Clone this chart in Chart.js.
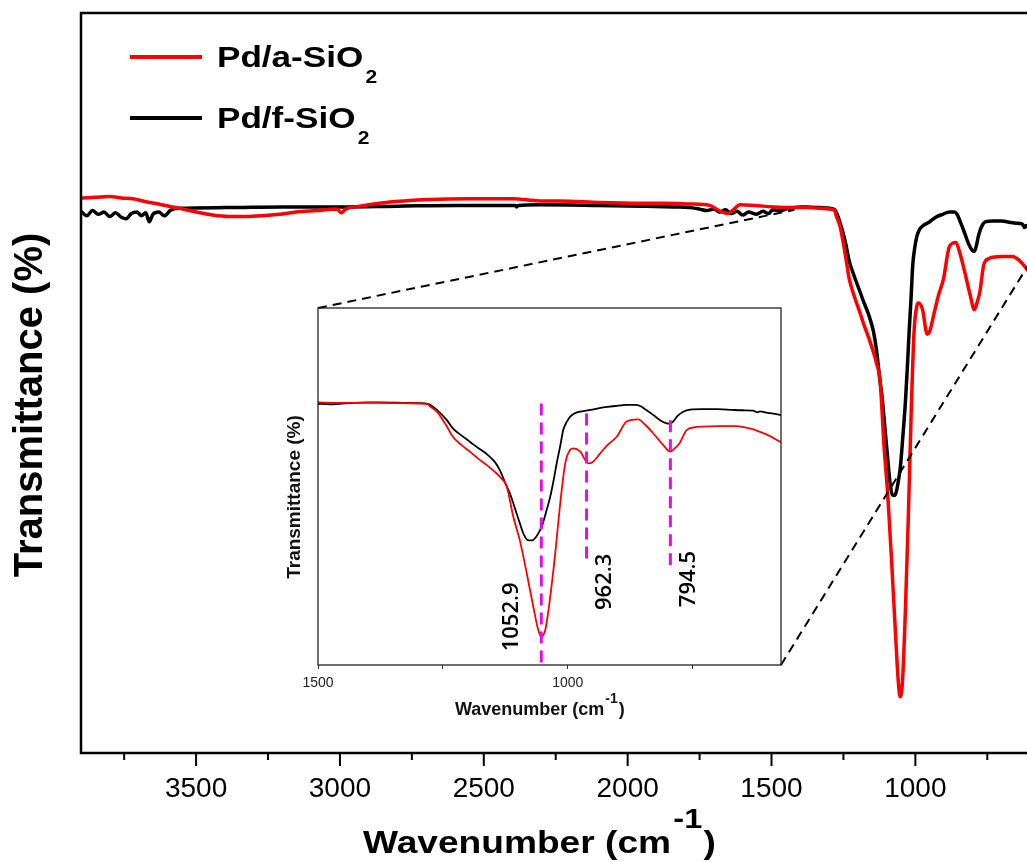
<!DOCTYPE html>
<html><head><meta charset="utf-8">
<script src="https://cdn.jsdelivr.net/npm/chart.js@4.4.1/dist/chart.umd.min.js"></script>
<style>
html,body{margin:0;padding:0;background:#fff;overflow:hidden}
#wrap{position:relative;width:1027px;height:862px;overflow:hidden;background:#fff}
#main{position:absolute;left:0;top:0}
#inset{position:absolute;left:250px;top:290px}
</style></head><body>
<div id="wrap">
<canvas id="main" width="1100" height="862"></canvas>
<canvas id="inset" width="560" height="450"></canvas>
</div>
<script>
// ---------------- data ----------------
const seriesNames = ['Pd/a-SiO_2', 'Pd/f-SiO_2'];
const seriesColors = ['#ff0000', '#000000'];

const redWn = [3900,3850,3800,3760,3720,3674,3620,3559,3500,3444,3385,3330,3270,3210,3152,3080,3010,2995,2980,2930,2863,2780,2689,2550,2400,2306,2237,2100,1958,1870,1785,1715,1692,1670,1651,1630,1610,1560,1496,1440,1377,1330,1297,1280,1276,1262,1242,1230,1213,1196,1180,1162,1146,1136,1122,1109,1096,1082,1069,1059,1053,1045,1035,1025,1015,1005,995,989,975,959,950,935,920,902,882,859,845,829,809,795,786,776,762,745,730,700,662,640,615,595,575,565];
const redT  = [75.0,75.1,75.2,75.0,74.9,74.5,74.1,73.6,73.1,72.7,72.5,72.5,72.6,72.8,73.1,73.3,73.5,73.0,73.5,73.9,74.3,74.6,74.8,74.9,74.9,74.6,74.6,74.4,74.3,74.3,74.2,74.0,73.5,73.1,72.9,73.5,74.1,74.0,73.8,73.7,73.7,73.6,73.5,73.3,72.7,71.2,67.0,64.1,61.8,59.9,58.0,56.1,54.2,52.8,50.0,41.5,34.9,25.5,16.1,9.5,7.6,9.5,18.9,31.2,45.3,56.6,60.4,60.8,59.9,56.6,57.0,59.4,61.8,64.1,68.4,69.0,67.5,65.1,61.8,59.9,60.8,62.3,66.0,66.8,67.0,67.1,67.1,66.6,65.5,64.3,62.7,62.0];

const blackWn = [3900,3880,3860,3840,3820,3800,3780,3760,3743,3725,3705,3690,3675,3663,3650,3630,3610,3590,3560,3400,3200,3000,2800,2600,2390,2386,2380,2306,2100,1950,1842,1780,1750,1726,1700,1680,1660,1640,1620,1600,1580,1552,1530,1510,1496,1470,1440,1400,1377,1330,1297,1280,1262,1242,1230,1213,1196,1180,1162,1146,1136,1122,1116,1106,1096,1088,1080,1072,1065,1059,1052,1044,1035,1028,1022,1015,1009,1002,995,985,975,950,929,905,882,865,855,842,829,815,802,795,789,780,769,755,730,700,670,650,629,620,615,605,595,575,565];
const blackT  = [73.2,72.6,73.3,72.8,73.1,72.5,73.0,72.4,72.2,72.9,73.1,72.6,73.0,71.8,72.8,73.1,72.6,73.3,73.6,73.7,73.8,73.8,73.9,74.0,74.0,73.8,74.0,74.1,74.0,73.9,73.8,73.7,73.5,73.3,73.5,73.1,73.4,72.9,73.2,72.7,73.1,72.8,73.2,72.9,73.4,73.3,73.6,73.8,73.8,73.7,73.6,73.4,71.7,68.8,66.5,64.5,62.7,61.0,59.2,57.0,54.7,50.0,48.2,44.0,39.7,36.5,34.9,34.8,35.5,36.8,38.7,42.5,47.2,52.0,56.7,61.5,66.0,68.3,69.8,70.8,71.2,71.8,72.4,72.8,73.1,73.1,72.8,71.6,70.3,68.8,67.9,67.8,68.4,70.0,71.2,71.8,71.9,71.9,71.7,71.6,71.5,71.0,71.3,71.0,70.8,70.3,70.0];

const mainTickValues = [500,750,1000,1250,1500,1750,2000,2250,2500,2750,3000,3250,3500,3750];
const mainLabelValues = [1000,1500,2000,2500,3000,3500];
const insetTickValues = [750,1000,1250,1500];
const insetLabelValues = [1000,1500];
const mainRange = [400, 3900];
const insetRange = [573, 1500];

const peakWn = [1052.9, 962.3, 794.5];
const peakLabels = ['1052.9', '962.3', '794.5'];

const xTitle = ['Wavenumber (cm', '-1', ')'];
const yTitle = 'Transmittance (%)';

// ---------------- helpers ----------------
const FONT = "'Liberation Sans', Arial, Helvetica, sans-serif";
const pts = (w, t) => w.map((x, i) => ({x: x, y: t[i]}));

function drawParts(ctx, parts, x, y, sx) {
  ctx.save();
  ctx.translate(x, y);
  ctx.scale(sx, 1);
  ctx.textAlign = 'left';
  ctx.textBaseline = 'alphabetic';
  let cx = 0;
  for (const p of parts) {
    ctx.font = 'bold ' + p.size + 'px ' + FONT;
    cx += (p.gap || 0);
    ctx.fillText(p.t, cx, p.dy || 0);
    cx += ctx.measureText(p.t).width;
  }
  ctx.restore();
}

// ---------------- inset chart ----------------
const insetPlugin = {
  id: 'insetDeco',
  afterDatasetsDraw(chart) {
    const ctx = chart.ctx, a = chart.chartArea;
    const xs = chart.scales.x, ys = chart.scales.y;
    ctx.save();
    const tops = [73.5, 70.7, 68.8], bots = [-0.4, 27.9, 26.5];
    const lblDx = [-30, 18, 18], lblY = [13.2, 23.1, 23.9];
    ctx.strokeStyle = '#e010e0';
    ctx.lineWidth = 3;
    ctx.setLineDash([12, 7]);
    peakWn.forEach((w, i) => {
      const px = xs.getPixelForValue(w);
      ctx.beginPath();
      ctx.moveTo(px, ys.getPixelForValue(tops[i]));
      ctx.lineTo(px, ys.getPixelForValue(bots[i]));
      ctx.stroke();
    });
    ctx.setLineDash([]);
    ctx.fillStyle = '#000';
    ctx.font = "600 22px 'Open Sans', sans-serif";
    ctx.textAlign = 'center';
    ctx.textBaseline = 'middle';
    peakWn.forEach((w, i) => {
      const px = xs.getPixelForValue(w) + lblDx[i];
      const py = ys.getPixelForValue(lblY[i]);
      ctx.save();
      ctx.translate(px, py);
      ctx.rotate(-Math.PI / 2);
      ctx.fillText(peakLabels[i], 0, 0);
      ctx.restore();
    });
    ctx.strokeStyle = '#222';
    ctx.lineWidth = 1.3;
    ctx.strokeRect(a.left, a.top, a.right - a.left, a.bottom - a.top);
    ctx.fillStyle = '#111';
    drawParts(ctx, [{t: xTitle[0], size: 18}, {t: xTitle[1], size: 14, dy: -12, gap: 1}, {t: xTitle[2], size: 18, gap: 1}], 205, 425, 1);
    ctx.save();
    ctx.translate(45, 207);
    ctx.rotate(-Math.PI / 2);
    ctx.font = 'bold 19px ' + FONT;
    ctx.textAlign = 'center';
    ctx.textBaseline = 'middle';
    ctx.fillText(yTitle, 0, 0);
    ctx.restore();
    ctx.restore();
  }
};

const insetChart = new Chart(document.getElementById('inset'), {
  type: 'line',
  data: {
    datasets: [
      {label: 'Pd/a-SiO2', data: pts(redWn, redT), borderColor: seriesColors[0], borderWidth: 1.8, pointRadius: 0, cubicInterpolationMode: 'monotone', fill: false},
      {label: 'Pd/f-SiO2', data: pts(blackWn, blackT), borderColor: seriesColors[1], borderWidth: 1.8, pointRadius: 0, cubicInterpolationMode: 'monotone', fill: false}
    ]
  },
  options: {
    responsive: false, animation: false, devicePixelRatio: 1,
    layout: {padding: {left: 68, top: 18, right: 29, bottom: 0}},
    plugins: {legend: {display: false}, tooltip: {enabled: false}},
    scales: {
      x: {
        type: 'linear', reverse: true, min: insetRange[0], max: insetRange[1],
        afterFit: s => { s.height = 75; },
        afterBuildTicks: s => { s.ticks = insetTickValues.map(v => ({value: v})); },
        border: {display: false},
        grid: {drawOnChartArea: false, drawTicks: true, tickLength: 4, tickColor: '#333', tickWidth: 1},
        ticks: {autoSkip: false, maxRotation: 0, padding: 6,
          color: '#222', font: {family: FONT, size: 14},
          callback: v => (insetLabelValues.includes(v) ? String(v) : '')}
      },
      y: {display: false, min: -0.4, max: 100.5}
    }
  },
  plugins: [insetPlugin]
});

// ---------------- main chart ----------------
const mainPlugin = {
  id: 'mainDeco',
  afterDatasetsDraw(chart) {
    const ctx = chart.ctx, a = chart.chartArea;
    const xs = chart.scales.x, ys = chart.scales.y;
    ctx.save();
    ctx.strokeStyle = '#000';
    ctx.lineWidth = 2.5;
    ctx.strokeRect(a.left, a.top, a.right - a.left, a.bottom - a.top);
    // ticks: long at labelled values, short otherwise
    ctx.lineWidth = 2;
    xs.ticks.forEach(t => {
      const px = xs.getPixelForValue(t.value);
      const len = mainLabelValues.includes(t.value) ? 13 : 7;
      ctx.beginPath();
      ctx.moveTo(px, a.bottom);
      ctx.lineTo(px, a.bottom + len);
      ctx.stroke();
    });
    // connectors to inset
    const ia = insetChart.chartArea;
    const offX = 250, offY = 290;
    ctx.lineWidth = 2;
    ctx.setLineDash([9, 6]);
    ctx.beginPath();
    ctx.moveTo(ia.left + offX, ia.top + offY);
    ctx.lineTo(xs.getPixelForValue(1420), ys.getPixelForValue(73.4));
    ctx.stroke();
    ctx.beginPath();
    ctx.moveTo(ia.right + offX, ia.bottom + offY);
    ctx.lineTo(xs.getPixelForValue(573), ys.getPixelForValue(68.1));
    ctx.stroke();
    ctx.setLineDash([]);
    // legend
    ctx.lineWidth = 4;
    const legY = [57, 118];
    seriesNames.forEach((n, i) => {
      const [base, sub] = n.split('_');
      ctx.strokeStyle = seriesColors[i];
      ctx.beginPath();
      ctx.moveTo(130, legY[i]);
      ctx.lineTo(202, legY[i]);
      ctx.stroke();
      ctx.fillStyle = '#000';
      drawParts(ctx, [{t: base, size: 30}, {t: sub, size: 18, dy: 16, gap: 2}], 217, legY[i] + 10, 1.17);
    });
    // titles
    ctx.fillStyle = '#000';
    drawParts(ctx, [{t: xTitle[0], size: 32}, {t: xTitle[1], size: 28, dy: -25, gap: 2}, {t: xTitle[2], size: 32, gap: 1}], 363, 853, 1.16);
    ctx.save();
    ctx.translate(31, 405);
    ctx.rotate(-Math.PI / 2);
    ctx.font = 'bold 40px ' + FONT;
    ctx.textAlign = 'center';
    ctx.textBaseline = 'middle';
    ctx.fillText(yTitle, 0, 0);
    ctx.restore();
    ctx.restore();
  }
};

new Chart(document.getElementById('main'), {
  type: 'line',
  data: {
    datasets: [
      {label: 'Pd/a-SiO2', data: pts(redWn, redT), borderColor: seriesColors[0], borderWidth: 3.5, pointRadius: 0, cubicInterpolationMode: 'monotone', fill: false},
      {label: 'Pd/f-SiO2', data: pts(blackWn, blackT), borderColor: seriesColors[1], borderWidth: 3.5, pointRadius: 0, cubicInterpolationMode: 'monotone', fill: false}
    ]
  },
  options: {
    responsive: false, animation: false, devicePixelRatio: 1,
    layout: {padding: {left: 81, top: 13, right: 12, bottom: 0}},
    plugins: {legend: {display: false}, tooltip: {enabled: false}},
    scales: {
      x: {
        type: 'linear', reverse: true, min: mainRange[0], max: mainRange[1],
        afterFit: s => { s.height = 109; },
        afterBuildTicks: s => { s.ticks = mainTickValues.map(v => ({value: v})); },
        border: {display: false},
        grid: {display: false, drawOnChartArea: false, drawTicks: false, tickLength: 13},
        ticks: {autoSkip: false, maxRotation: 0, padding: 19,
          color: '#000', font: {family: FONT, size: 28},
          callback: v => (mainLabelValues.includes(v) ? String(v) : '')}
      },
      y: {display: false, min: 0, max: 100}
    }
  },
  plugins: [mainPlugin]
});
</script>
</body></html>
